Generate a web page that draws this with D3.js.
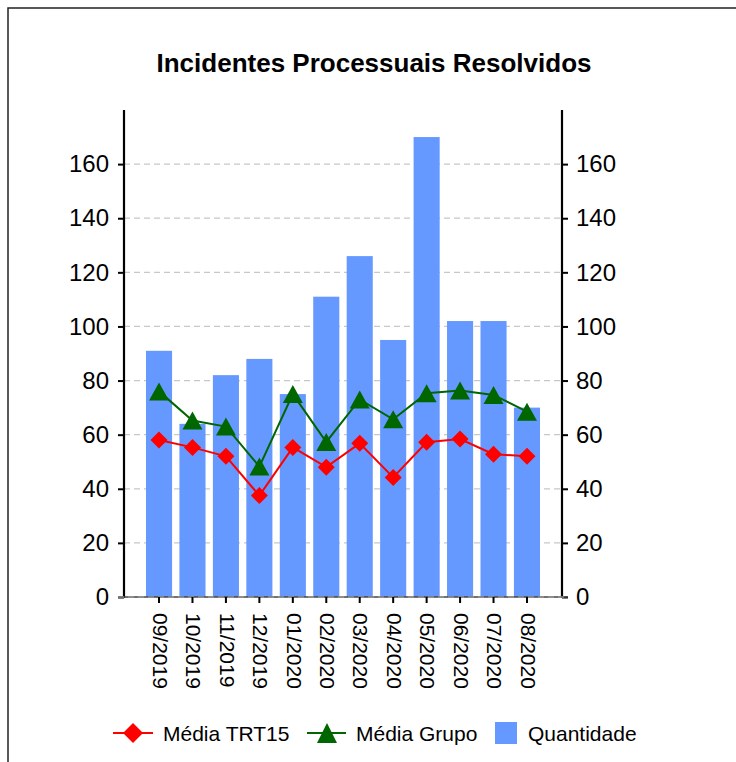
<!DOCTYPE html>
<html>
<head>
<meta charset="utf-8">
<script src="https://cdn.jsdelivr.net/npm/d3@7"></script>
<style>
  html, body { margin: 0; padding: 0; background: #fff; }
  svg { display: block; font-family: "Liberation Sans", Arial, Helvetica, sans-serif; }
</style>
</head>
<body>
<svg id="chart" width="736" height="762"></svg>
<script>
const categories = ["09/2019","10/2019","11/2019","12/2019","01/2020","02/2020","03/2020","04/2020","05/2020","06/2020","07/2020","08/2020"];
const quantidade = [91, 64, 82, 88, 75, 111, 126, 95, 170, 102, 102, 70];
const mediaTRT15 = [58, 55.3, 52, 37.5, 55.3, 48, 56.8, 44.2, 57.2, 58.4, 52.8, 52];
const mediaGrupo = [76, 65.2, 63, 48.2, 75, 57.3, 73, 65.7, 75.3, 76.3, 74.7, 68.5];
const yTicks = [0, 20, 40, 60, 80, 100, 120, 140, 160];
const titleText = "Incidentes Processuais Resolvidos";
const legendLabels = ["Média TRT15", "Média Grupo", "Quantidade"];

const colBar = "#6699ff", colRed = "#ff0000", colGreen = "#006600";

const svg = d3.select("#chart");
const pLeft = 124, pRight = 562, pTop = 110, pBottom = 597;

// frame
svg.append("path").attr("d", "M8,762V8H736").attr("fill", "none").attr("stroke", "#222").attr("stroke-width", 1.5);

// title
svg.append("text").attr("x", 374).attr("y", 72).attr("text-anchor", "middle")
  .attr("font-size", 26).attr("font-weight", "bold").attr("fill", "#000").text(titleText);

const x = d3.scaleBand().domain(categories).range([pLeft, pRight]).paddingInner(0.22).paddingOuter(0.657);
const y = d3.scaleLinear().domain([0, 180]).range([pBottom, pTop]);

// gridlines
svg.append("g").selectAll("line").data(yTicks.filter(d => d > 0)).join("line")
  .attr("x1", pLeft).attr("x2", pRight).attr("y1", d => y(d)).attr("y2", d => y(d))
  .attr("stroke", "#c8c8c8").attr("stroke-width", 1.2).attr("stroke-dasharray", "6,4");

// bars
svg.append("g").selectAll("rect").data(quantidade).join("rect")
  .attr("x", (d, i) => x(categories[i])).attr("width", x.bandwidth())
  .attr("y", d => y(d)).attr("height", d => y(0) - y(d)).attr("fill", colBar);

// left axis
const yAxisL = d3.axisLeft(y).tickValues(yTicks).tickSize(6).tickPadding(9);
const gL = svg.append("g").attr("transform", `translate(${pLeft},0)`).call(yAxisL);
gL.select(".domain").remove();
gL.selectAll(".tick line").attr("stroke", "#000").attr("stroke-width", 2);
gL.selectAll(".tick text").attr("font-size", 24).attr("fill", "#000").attr("font-family", "Liberation Sans, Arial, sans-serif");
svg.append("line").attr("x1", pLeft).attr("x2", pLeft).attr("y1", pTop).attr("y2", pBottom + 1).attr("stroke", "#000").attr("stroke-width", 2.2);

// right axis
const yAxisR = d3.axisRight(y).tickValues(yTicks).tickSize(6).tickPadding(8);
const gR = svg.append("g").attr("transform", `translate(${pRight},0)`).call(yAxisR);
gR.select(".domain").remove();
gR.selectAll(".tick line").attr("stroke", "#000").attr("stroke-width", 2);
gR.selectAll(".tick text").attr("font-size", 24).attr("fill", "#000").attr("font-family", "Liberation Sans, Arial, sans-serif");
svg.append("line").attr("x1", pRight).attr("x2", pRight).attr("y1", pTop).attr("y2", pBottom + 1).attr("stroke", "#000").attr("stroke-width", 2.2);

// x axis
svg.append("line").attr("x1", pLeft - 6).attr("x2", pRight + 6).attr("y1", pBottom).attr("y2", pBottom)
  .attr("stroke", "#444").attr("stroke-width", 1.5);
svg.append("line").attr("x1", pLeft - 6).attr("x2", pRight + 6).attr("y1", pBottom).attr("y2", pBottom)
  .attr("stroke", "#aaa").attr("stroke-width", 1).attr("stroke-dasharray", "6,4");
const xAxis = d3.axisBottom(x).tickSize(6).tickSizeOuter(0);
const gX = svg.append("g").attr("transform", `translate(0,${pBottom})`).call(xAxis);
gX.select(".domain").remove();
gX.selectAll(".tick line").attr("stroke", "#000").attr("stroke-width", 2);
gX.selectAll(".tick text")
  .attr("font-size", 21).attr("fill", "#000").attr("font-family", "Liberation Sans, Arial, sans-serif")
  .attr("text-anchor", "start").attr("transform", "rotate(90)")
  .attr("x", 16).attr("y", 0).attr("dy", "0.3em");

const cx = i => x(categories[i]) + x.bandwidth() / 2;

// lines
const lineG = d3.line().x((d, i) => cx(i)).y(d => y(d));
svg.append("path").datum(mediaGrupo).attr("d", lineG).attr("fill", "none").attr("stroke", colGreen).attr("stroke-width", 2);
svg.append("path").datum(mediaTRT15).attr("d", lineG).attr("fill", "none").attr("stroke", colRed).attr("stroke-width", 2);

// triangles
const tri = (px, py, w, h) => `M${px},${py - h / 2}L${px + w / 2},${py + h / 2}L${px - w / 2},${py + h / 2}Z`;
svg.append("g").selectAll("path").data(mediaGrupo).join("path")
  .attr("d", (d, i) => tri(cx(i), y(d), 20, 18)).attr("fill", colGreen);
// diamonds
const dia = (px, py, r) => `M${px},${py - r}L${px + r},${py}L${px},${py + r}L${px - r},${py}Z`;
svg.append("g").selectAll("path").data(mediaTRT15).join("path")
  .attr("d", (d, i) => dia(cx(i), y(d), 8.5)).attr("fill", colRed);

// legend
const ly = 733;
const lg = svg.append("g").attr("font-size", 21).attr("fill", "#000");
lg.append("line").attr("x1", 113).attr("x2", 153).attr("y1", ly).attr("y2", ly).attr("stroke", colRed).attr("stroke-width", 2);
lg.append("path").attr("d", dia(133, ly, 10)).attr("fill", colRed);
lg.append("text").attr("x", 163).attr("y", ly).attr("dy", "0.36em").text(legendLabels[0]);
lg.append("line").attr("x1", 307).attr("x2", 346).attr("y1", ly).attr("y2", ly).attr("stroke", colGreen).attr("stroke-width", 2);
lg.append("path").attr("d", tri(327, ly, 20, 20)).attr("fill", colGreen);
lg.append("text").attr("x", 356).attr("y", ly).attr("dy", "0.36em").text(legendLabels[1]);
lg.append("rect").attr("x", 495).attr("y", ly - 11).attr("width", 22).attr("height", 22).attr("fill", colBar);
lg.append("text").attr("x", 528).attr("y", ly).attr("dy", "0.36em").text(legendLabels[2]);
</script>
</body>
</html>
